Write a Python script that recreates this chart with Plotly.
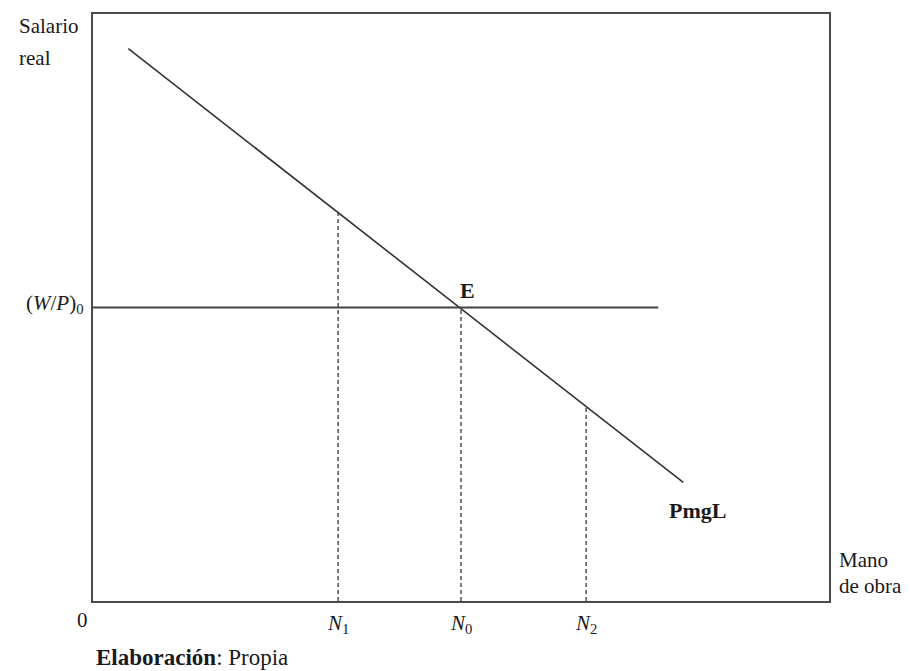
import plotly.graph_objects as go

# ---- data (arbitrary units: labour on x, real wage on y) ----
pmgl_x = [4.8, 80.2]          # PmgL (marginal product of labour) end points
pmgl_y = [94.1, 20.2]
wage_level = 50.0             # (W/P)0
wage_line_x = [0.0, 76.8]     # extent of the horizontal wage line
n_values = [33.3, 50.0, 67.0]
n_labels = ["<i>N</i><sub>1</sub>", "<i>N</i><sub>0</sub>", "<i>N</i><sub>2</sub>"]
equilibrium = (50.0, 50.0)

X_RANGE = [0, 100]
Y_RANGE = [0, 100]

FONT = '"Liberation Serif", "Times New Roman", serif'
TXT = "#1a1a1a"

fig = go.Figure()

fig.add_trace(go.Scatter(x=pmgl_x, y=pmgl_y, mode="lines",
                         line=dict(color="#333333", width=1.6),
                         hoverinfo="skip", showlegend=False))
fig.add_trace(go.Scatter(x=wage_line_x, y=[wage_level, wage_level], mode="lines",
                         line=dict(color="#444444", width=1.8),
                         hoverinfo="skip", showlegend=False))
slope = (pmgl_y[1] - pmgl_y[0]) / (pmgl_x[1] - pmgl_x[0])
for nv in n_values:
    top = pmgl_y[0] + slope * (nv - pmgl_x[0])
    fig.add_trace(go.Scatter(x=[nv, nv], y=[0, top], mode="lines",
                             line=dict(color="#444444", width=1.4, dash="4px,3px"),
                             hoverinfo="skip", showlegend=False))

def px(x):
    return (x - X_RANGE[0]) / (X_RANGE[1] - X_RANGE[0])

def py(y):
    return (y - Y_RANGE[0]) / (Y_RANGE[1] - Y_RANGE[0])

ann = []
def add(text, x, y, xanchor="center", size=21, bold=False):
    ann.append(dict(text=f"<b>{text}</b>" if bold else text, x=px(x), y=py(y),
                    xref="paper", yref="paper",
                    xanchor=xanchor, yanchor="middle", showarrow=False,
                    font=dict(family=FONT, size=size, color=TXT)))

add("Salario", -10.3, 97.9, "left")
add("real", -10.3, 92.5, "left")
add("(<i>W</i>/<i>P</i>)<sub>0</sub>", -1.0, 50.6, "right")
add("0", -1.4, -3.3)
for nv, lab in zip(n_values, n_labels):
    add(lab, nv, -3.9)
add("E", equilibrium[0] + 0.9, equilibrium[1] + 2.9, size=22, bold=True)
add("PmgL", 82.2, 15.5, size=22, bold=True)
add("Mano", 101.1, 7.0, "left")
add("de obra", 101.1, 2.6, "left")
add("<b>Elaboración</b>: Propia", 0.2, -9.7, "left", size=23)

fig.update_layout(
    width=910, height=671,
    margin=dict(l=85, r=89, t=4, b=78),
    paper_bgcolor="white", plot_bgcolor="white",
    font=dict(family=FONT, color=TXT),
    annotations=ann,
    xaxis=dict(range=X_RANGE, showgrid=False, zeroline=False, showticklabels=False,
               ticks="", showline=True, mirror=True, linecolor="#4a4a4a", linewidth=2),
    yaxis=dict(range=Y_RANGE, showgrid=False, zeroline=False, showticklabels=False,
               ticks="", showline=True, mirror=True, linecolor="#4a4a4a", linewidth=2),
)

fig.write_html("out.html")
